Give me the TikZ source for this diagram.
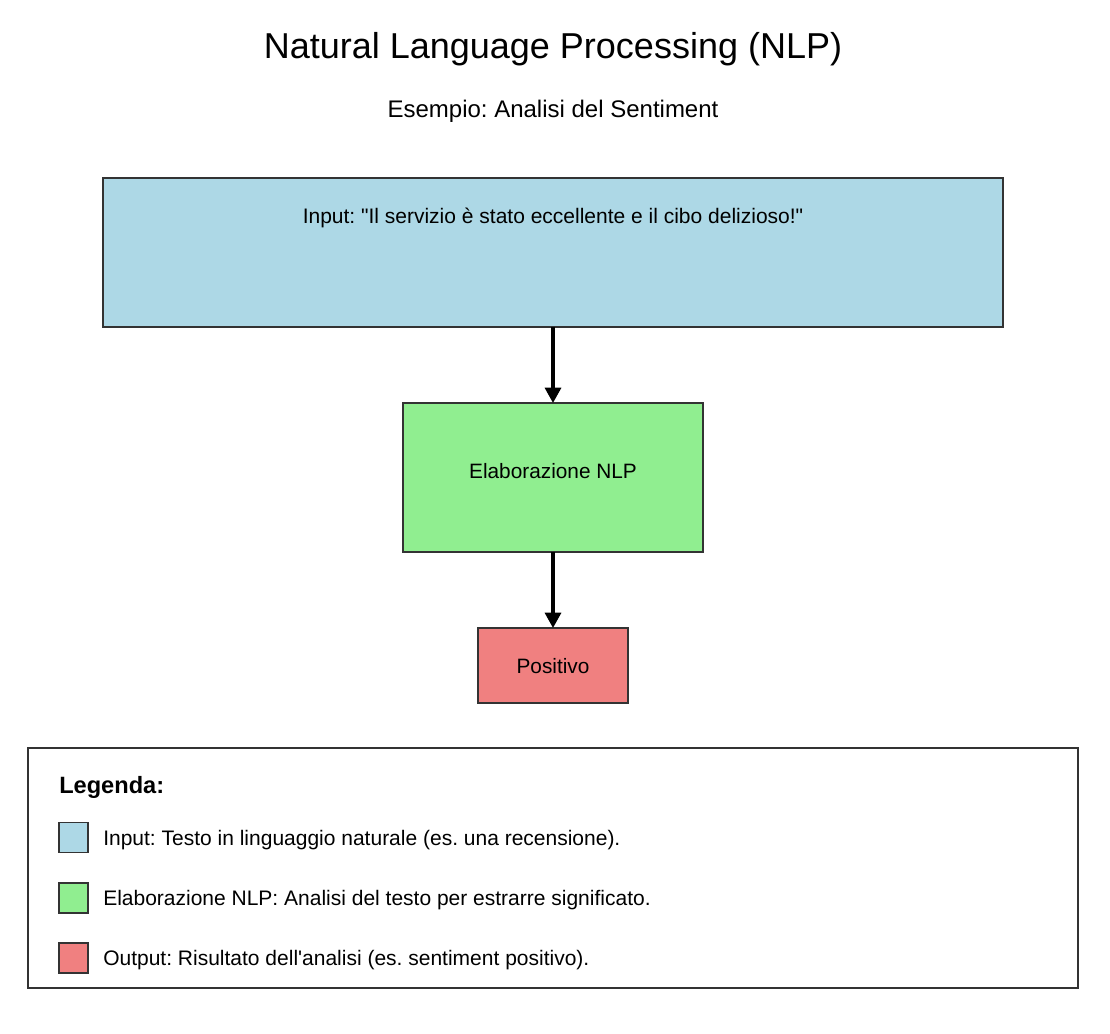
\documentclass[tikz,border=0pt]{standalone}
\usepackage{fontspec}
\setmainfont[Ligatures=TeXReset]{Liberation Sans}
\usetikzlibrary{arrows.meta}
\definecolor{inblue}{HTML}{ADD8E6}
\definecolor{nlpgreen}{HTML}{90EE90}
\definecolor{outred}{HTML}{F08080}
\definecolor{edge}{HTML}{333333}
\frenchspacing
\begin{document}
\begin{tikzpicture}[x=0.75pt,y=-0.75pt,
  boxstyle/.style={draw=edge,line width=1.1pt,inner sep=0pt,outer sep=0pt},
  txt/.style={inner sep=0pt,anchor=base,font=\fontsize{15.6pt}{18pt}\selectfont},
  ltxt/.style={inner sep=0pt,anchor=base west,font=\fontsize{15.75pt}{18pt}\selectfont},
  flow/.style={line width=2.4pt,-{Triangle[length=11.5pt,width=12pt]}}]
\useasboundingbox[fill=white] (0,0) rectangle (1110,1034);
% titles
\node[inner sep=0pt,anchor=base,font=\fontsize{27pt}{32pt}\selectfont] (title) at (553,59) {Natural Language Processing (NLP)};
\node[inner sep=0pt,anchor=base,font=\fontsize{18pt}{22pt}\selectfont] (sub) at (553,118) {Esempio: Analisi del Sentiment};
% boxes
\node[boxstyle,fill=inblue,minimum width=675pt,minimum height=111.75pt] (in) at (553,252.5) {};
\node[txt,font=\fontsize{15.75pt}{18pt}\selectfont] (intxt) at (553,224) {Input: \char34 Il servizio è stato eccellente e il cibo delizioso!\char34};
\node[boxstyle,fill=nlpgreen,minimum width=225pt,minimum height=111.75pt] (nlp) at (553,477.5) {};
\node[txt] (nlptxt) at (553,478) {Elaborazione NLP};
\node[boxstyle,fill=outred,minimum width=112.5pt,minimum height=56.25pt] (out) at (553,665.5) {};
\node[txt] (outtxt) at (553,673) {Positivo};
\draw[flow] (in.south) -- (nlp.north);
\draw[flow] (nlp.south) -- (out.north);
% legend
\node[boxstyle,draw=edge,fill=white,minimum width=787.5pt,minimum height=180pt] (leg) at (553,868) {};
\node[inner sep=0pt,anchor=base west,font=\fontsize{17.7pt}{21pt}\selectfont\bfseries] (legt) at (59,793) {Legenda:};
\node[boxstyle,fill=inblue,minimum width=21.75pt,minimum height=22.5pt] (s1) at (73.5,837.5) {};
\node[ltxt] (l1) at (103,845) {Input: Testo in linguaggio naturale (es. una recensione).};
\node[boxstyle,fill=nlpgreen,minimum width=21.75pt,minimum height=22.5pt] (s2) at (73.5,898) {};
\node[ltxt] (l2) at (103,905) {Elaborazione NLP: Analisi del testo per estrarre significato.};
\node[boxstyle,fill=outred,minimum width=21.75pt,minimum height=22.5pt] (s3) at (73.5,958) {};
\node[ltxt] (l3) at (103,965) {Output: Risultato dell\char39 analisi (es. sentiment positivo).};
\end{tikzpicture}
\end{document}
